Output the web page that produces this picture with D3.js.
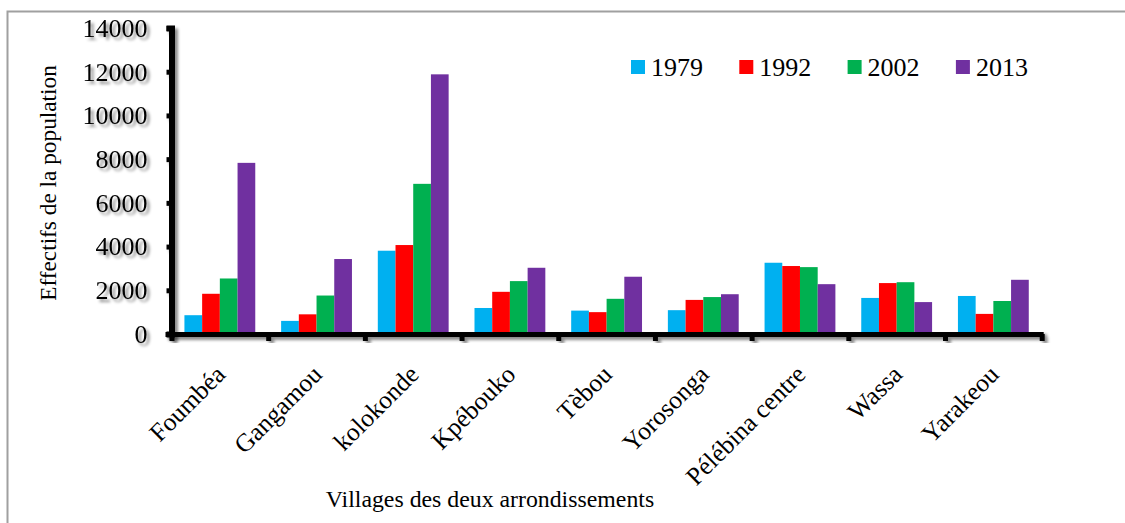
<!DOCTYPE html>
<html>
<head>
<meta charset="utf-8">
<script src="https://cdn.jsdelivr.net/npm/d3@7"></script>
<style>
  html, body { margin: 0; padding: 0; background: #fff; }
  svg { display: block; font-family: "Liberation Serif", "Times New Roman", serif; }
  svg text { font-family: "Liberation Serif", "Times New Roman", serif; }
</style>
</head>
<body>
<svg id="chart" width="1125" height="523"></svg>
<script>
// villages (x categories)
const villages = ["Foumbéa", "Gangamou", "kolokonde", "Kpébouko", "Tèbou",
                  "Yorosonga", "Pélébina centre", "Wassa", "Yarakeou"];
// census years (series)
const years = ["1979", "1992", "2002", "2013"];
const yearColors = ["#00B0F0", "#FF0000", "#00B050", "#7030A0"];

// population per village, one array per year
const pop1979 = [860, 600, 3810, 1190, 1070, 1090, 3260, 1650, 1740];
const pop1992 = [1840, 900, 4070, 1930, 1000, 1560, 3110, 2330, 920];
const pop2002 = [2540, 1760, 6870, 2420, 1610, 1690, 3060, 2370, 1510];
const pop2013 = [7830, 3430, 11880, 3030, 2620, 1820, 2280, 1460, 2480];
const series = [pop1979, pop1992, pop2002, pop2013];

const yTicks = [0, 2000, 4000, 6000, 8000, 10000, 12000, 14000];

const svg = d3.select("#chart");

// frame round the chart
svg.append("rect")
  .attr("x", 7.5).attr("y", 11.5)
  .attr("width", 1130).attr("height", 530)
  .attr("fill", "none")
  .attr("stroke", "#a0a0a0")
  .attr("stroke-width", 2);

// soft shadow used by the heavy axes
const defs = svg.append("defs");
defs.append("filter")
    .attr("id", "shadow")
    .attr("x", "-20%").attr("y", "-20%")
    .attr("width", "140%").attr("height", "140%")
  .append("feDropShadow")
    .attr("dx", 3).attr("dy", 3)
    .attr("stdDeviation", 1.8)
    .attr("flood-color", "#000")
    .attr("flood-opacity", 0.45);

const plotLeft = 171.5, plotRight = 1041.7, plotTop = 28, plotBottom = 334;

const x0 = d3.scaleBand().domain(villages).range([plotLeft, plotRight]).padding(0);
const x1 = d3.scaleBand().domain(years).range([0, x0.bandwidth()])
  .paddingInner(0).paddingOuter(0.73);
const xEdge = d3.scaleLinear().domain([0, villages.length]).range([plotLeft, plotRight]);
const y = d3.scaleLinear().domain([0, 14000]).range([plotBottom, plotTop]);

// bars
const rows = villages.map((v, i) => ({ village: v, values: years.map((yr, k) => ({ year: yr, k, value: series[k][i] })) }));

svg.append("g")
  .selectAll("g")
  .data(rows)
  .enter().append("g")
    .attr("transform", d => `translate(${x0(d.village)},0)`)
  .selectAll("rect")
  .data(d => d.values)
  .enter().append("rect")
    .attr("x", d => x1(d.year))
    .attr("width", x1.bandwidth())
    .attr("y", d => y(d.value))
    .attr("height", d => y(0) - y(d.value))
    .attr("fill", d => yearColors[d.k]);

// y axis
const yAxis = svg.append("g")
  .attr("transform", `translate(${plotLeft},0)`)
  .attr("filter", "url(#shadow)")
  .call(d3.axisLeft(y).tickValues(yTicks).tickSize(5).tickPadding(19).tickFormat(d3.format("d")));
yAxis.attr("font-family", null);
yAxis.select(".domain").attr("stroke", "#000").attr("stroke-width", 6);
yAxis.selectAll(".tick line").attr("stroke", "#000").attr("stroke-width", 5);
yAxis.selectAll(".tick text")
  .attr("font-size", 26)
  .attr("fill", "#000");

// x axis (ticks at category edges)
const xAxis = svg.append("g")
  .attr("transform", `translate(0,${plotBottom})`)
  .attr("filter", "url(#shadow)")
  .call(d3.axisBottom(xEdge).tickValues(d3.range(villages.length + 1)).tickSize(7).tickSizeOuter(0).tickFormat(""));
xAxis.select(".domain").attr("stroke", "#000").attr("stroke-width", 6)
  .attr("d", `M${plotLeft - 6},0H${plotRight + 2}`);
xAxis.selectAll(".tick line").attr("stroke", "#000").attr("stroke-width", 5);

// category labels, rotated
svg.append("g")
  .selectAll("text")
  .data(villages)
  .enter().append("text")
    .attr("transform", d => `translate(${x0(d) + x0.bandwidth() / 2 + 7},376) rotate(-45)`)
    .attr("text-anchor", "end")
    .attr("font-size", 25.5)
    .attr("fill", "#000")
    .text(d => d);

// axis titles
svg.append("text")
  .attr("transform", "translate(56,183) rotate(-90)")
  .attr("text-anchor", "middle")
  .attr("font-size", 23.3)
  .attr("fill", "#000")
  .text("Effectifs de la population");

svg.append("text")
  .attr("x", 490).attr("y", 507)
  .attr("text-anchor", "middle")
  .attr("font-size", 23.8)
  .attr("fill", "#000")
  .text("Villages des deux arrondissements");

// legend
const legend = svg.append("g")
  .selectAll("g")
  .data(years)
  .enter().append("g")
    .attr("transform", (d, i) => `translate(${631 + i * 108.3},60)`);
legend.append("rect")
  .attr("width", 14).attr("height", 14)
  .attr("fill", (d, i) => yearColors[i]);
legend.append("text")
  .attr("x", 20).attr("y", 15.5)
  .attr("font-size", 26)
  .attr("fill", "#000")
  .text(d => d);
</script>
</body>
</html>
